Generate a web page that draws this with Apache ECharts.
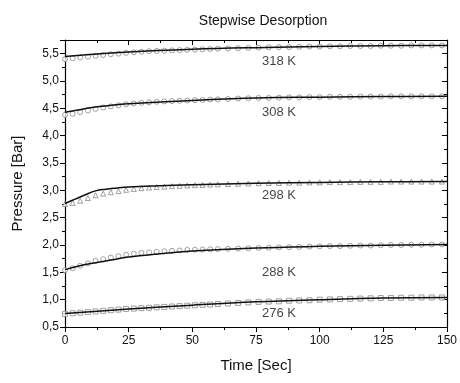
<!DOCTYPE html>
<html><head><meta charset="utf-8">
<script src="https://cdn.jsdelivr.net/npm/echarts@6/dist/echarts.min.js"></script>
<style>html,body{margin:0;padding:0;background:#fff}#c{width:460px;height:383px}</style>
</head><body><div id="c"></div>
<script>
var markerTimes = [0,3,6,9,12,15,18,21,24,27,30,33,36,39,42,45,48,51,54,57,60,64,68,72,76,80,84,88,92,96,100,104,108,112,116,120,124,128,132,136,140,144,148];
var m318 = [5.40,5.415,5.43,5.445,5.46,5.475,5.49,5.50,5.515,5.525,5.535,5.545,5.55,5.555,5.56,5.565,5.57,5.575,5.58,5.585,5.59,5.595,5.60,5.605,5.61,5.615,5.62,5.62,5.625,5.63,5.63,5.635,5.635,5.64,5.64,5.64,5.645,5.645,5.645,5.65,5.65,5.65,5.65];
var m308 = [4.38,4.40,4.43,4.46,4.49,4.515,4.535,4.555,4.575,4.59,4.60,4.61,4.62,4.627,4.633,4.638,4.645,4.65,4.655,4.66,4.665,4.67,4.68,4.685,4.69,4.69,4.695,4.70,4.70,4.705,4.705,4.71,4.71,4.71,4.715,4.715,4.715,4.72,4.72,4.72,4.72,4.72,4.72];
var m298 = [2.75,2.77,2.81,2.86,2.91,2.94,2.965,2.985,3.01,3.025,3.04,3.05,3.06,3.068,3.075,3.082,3.09,3.095,3.10,3.105,3.11,3.115,3.12,3.125,3.13,3.135,3.135,3.14,3.14,3.145,3.145,3.15,3.15,3.15,3.155,3.155,3.155,3.16,3.16,3.16,3.16,3.16,3.16];
var m288 = [1.54,1.575,1.62,1.665,1.71,1.74,1.77,1.795,1.82,1.84,1.855,1.865,1.875,1.885,1.893,1.90,1.91,1.913,1.917,1.921,1.925,1.93,1.935,1.94,1.945,1.95,1.955,1.96,1.965,1.97,1.975,1.98,1.98,1.985,1.99,1.99,1.995,2.0,2.0,2.005,2.005,2.01,2.01];
var m276 = [0.74,0.751,0.762,0.773,0.785,0.796,0.807,0.818,0.83,0.837,0.845,0.852,0.86,0.867,0.875,0.882,0.89,0.897,0.905,0.912,0.92,0.93,0.94,0.95,0.96,0.965,0.97,0.98,0.985,0.99,1.0,1.005,1.01,1.015,1.02,1.025,1.03,1.03,1.035,1.035,1.04,1.04,1.04];

var fitT318 = [0,25,50,75,100,125,150];
var fit318 = [5.45,5.53,5.58,5.61,5.63,5.645,5.65];
var fitT308 = [0,5,10,15,20,25,50,75,100,125,150];
var fit308 = [4.43,4.47,4.51,4.54,4.565,4.585,4.645,4.69,4.705,4.715,4.72];
var fitT298 = [0,4,8,12,16,20,25,35,50,75,100,125,150];
var fit298 = [2.76,2.84,2.92,2.99,3.02,3.04,3.06,3.08,3.10,3.13,3.145,3.155,3.16];
var fitT288 = [0,5,10,15,20,25,35,50,75,100,125,150];
var fit288 = [1.55,1.61,1.66,1.70,1.74,1.78,1.83,1.89,1.945,1.975,1.995,2.01];
var fitT276 = [0,25,50,75,100,125,150];
var fit276 = [0.745,0.83,0.90,0.96,1.0,1.03,1.04];

var labelTexts = ['318 K','308 K','298 K','288 K','276 K'];
var labelT = [84,84,84,84,84];
var labelV = [5.35,4.42,2.90,1.50,0.75];

var xTicks = [0,25,50,75,100,125,150];
var yTicks = [0.5,1.0,1.5,2.0,2.5,3.0,3.5,4.0,4.5,5.0,5.5];

function pairs(t, v){ return t.map(function(x,i){return [x, v[i]];}); }
var font = 'Liberation Sans, Arial, sans-serif';
var mk = {color:'#fff', borderColor:'#8a8a8a', borderWidth:1};

function markerSeries(v, sym){
  return {type:'scatter', data:pairs(markerTimes, v), symbol:sym, symbolSize:5, itemStyle:mk, z:2, silent:true};
}
function fitSeries(t, v){
  return {type:'line', data:pairs(t, v), smooth:0.4, showSymbol:false, lineStyle:{color:'#111', width:1.5}, z:3, silent:true};
}
function axisCommon(inside){
  return {
    axisLine:{show:true, onZero:false, lineStyle:{color:'#000', width:1.2}},
    axisTick:{show:true, inside:inside, length:5, lineStyle:{color:'#000'}},
    minorTick:{show:true, splitNumber:2, length:3, lineStyle:{color:'#000'}},
    splitLine:{show:false}
  };
}
var xMain = Object.assign(axisCommon(false), {
  type:'value', min:0, max:150, interval:25,
  name:'Time [Sec]', nameLocation:'middle', nameGap:31,
  nameTextStyle:{fontFamily:font, fontSize:15, color:'#111'},
  axisLabel:{fontFamily:font, fontSize:12, color:'#111', margin:8,
    formatter:function(v){ return xTicks.indexOf(v) >= 0 ? String(v) : ''; }}
});
var xTop = Object.assign(axisCommon(true), {
  type:'value', min:0, max:150, interval:25, position:'top', axisLabel:{show:false}
});
var yMain = Object.assign(axisCommon(false), {
  type:'value', min:0.5, max:5.75, interval:0.5,
  name:'Pressure [Bar]', nameLocation:'middle', nameGap:40,
  nameTextStyle:{fontFamily:font, fontSize:15, color:'#111'},
  axisLabel:{fontFamily:font, fontSize:12, color:'#111', margin:6, showMaxLabel:false,
    formatter:function(v){
      var r = Math.round(v*10)/10;
      return yTicks.indexOf(r) >= 0 && Math.abs(r-v)<1e-6 ? r.toFixed(1).replace('.', ',') : '';
    }}
});
var yRight = Object.assign(axisCommon(true), {
  type:'value', min:0.5, max:5.75, interval:0.5, position:'right', axisLabel:{show:false}
});

var chart = echarts.init(document.getElementById('c'), null, {renderer:'canvas'});
chart.setOption({
  animation:false,
  backgroundColor:'#fff',
  title:{text:'Stepwise Desorption', left:258, top:9, textAlign:'center',
    textStyle:{fontFamily:font, fontSize:14, fontWeight:'normal', color:'#111'}},
  grid:{left:65, right:13, top:40, bottom:56},
  xAxis:[xMain, xTop],
  yAxis:[yMain, yRight],
  series:[
    markerSeries(m318,'circle'),
    markerSeries(m308,'circle'),
    markerSeries(m298,'triangle'),
    markerSeries(m288,'circle'),
    markerSeries(m276,'rect'),
    fitSeries(fitT318, fit318),
    fitSeries(fitT308, fit308),
    fitSeries(fitT298, fit298),
    fitSeries(fitT288, fit288),
    fitSeries(fitT276, fit276),
    {type:'scatter', symbolSize:0, silent:true, z:4,
      data:labelTexts.map(function(s,i){return {value:[labelT[i], labelV[i]], name:s};}),
      label:{show:true, position:'inside', formatter:'{b}', fontFamily:font, fontSize:13, color:'#111'}}
  ]
});
</script>
</body></html>
